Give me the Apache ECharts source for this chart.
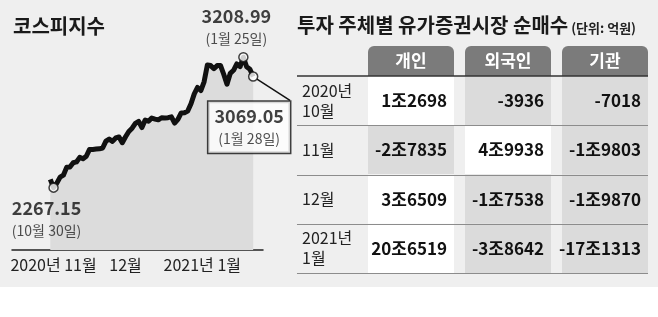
<!DOCTYPE html>
<html><head><meta charset="utf-8">
<script src="https://cdn.jsdelivr.net/npm/echarts@6/dist/echarts.min.js"></script>
<style>html,body{margin:0;padding:0;background:#fff}#c{width:658px;height:317px;background:linear-gradient(#efefef 0,#efefef 287px,#fff 287px)}</style>
</head><body><div id="c"></div><script>
// ---- data ----
const dates = ['2020-10-29','2020-10-30',
 '2020-11-02','2020-11-03','2020-11-04','2020-11-05','2020-11-06','2020-11-09','2020-11-10','2020-11-11','2020-11-12','2020-11-13',
 '2020-11-16','2020-11-17','2020-11-18','2020-11-19','2020-11-20','2020-11-23','2020-11-24','2020-11-25','2020-11-26','2020-11-27','2020-11-30',
 '2020-12-01','2020-12-02','2020-12-03','2020-12-04','2020-12-07','2020-12-08','2020-12-09','2020-12-10','2020-12-11',
 '2020-12-14','2020-12-15','2020-12-16','2020-12-17','2020-12-18','2020-12-21','2020-12-22','2020-12-23','2020-12-24','2020-12-28','2020-12-29','2020-12-30',
 '2021-01-04','2021-01-05','2021-01-06','2021-01-07','2021-01-08','2021-01-11','2021-01-12','2021-01-13','2021-01-14','2021-01-15',
 '2021-01-18','2021-01-19','2021-01-20','2021-01-21','2021-01-22','2021-01-25','2021-01-26','2021-01-27','2021-01-28'];
const kospi = [2326.67,2267.15,
 2300.16,2343.31,2357.32,2413.79,2416.50,2447.20,2452.83,2485.87,2475.62,2493.87,
 2543.03,2543.35,2545.64,2547.42,2553.50,2602.59,2617.76,2601.54,2625.91,2633.45,2591.34,
 2634.25,2672.85,2696.22,2731.45,2745.44,2700.93,2755.47,2746.46,2770.06,
 2762.20,2756.82,2771.79,2770.43,2772.18,2778.65,2733.68,2759.82,2806.86,2808.60,2820.51,2873.47,
 2944.45,2990.57,2968.21,3031.68,3152.18,3148.45,3125.95,3148.29,3149.93,3085.90,
 3013.93,3092.66,3114.55,3160.84,3140.63,3208.99,3140.31,3122.56,3069.05];
const tickDates = ['2020-10-30','2020-12-01','2021-01-04'];
const tickLabels = ['2020년 11월','12월','2021년 1월'];
const markDates = ['2020-10-30','2021-01-25','2021-01-28'];
const markDayLabels = ['(10월 30일)','(1월 25일)','(1월 28일)'];

const tableCols = ['개인','외국인','기관'];
const tableRows = ['2020년\n10월','11월','12월','2021년\n1월'];
const individual  = ['1조2698','-2조7835','3조6509','20조6519'];
const foreign     = ['-3936','4조9938','-1조7538','-3조8642'];
const institution = ['-7018','-1조9803','-1조9870','-17조1313'];

// ---- build ----
const FONT = "'Noto Sans CJK KR', 'Noto Sans', sans-serif";
const tableCells = [individual, foreign, institution];
const tickIdx = tickDates.map(d => dates.indexOf(d));
const lineData = kospi.map((v, i) => [i, v]);

const markLabelStyles = [
  {position:'bottom', distance:4, offset:[-7,0]},
  {position:'top', distance:1, offset:[-7,0]},
  {position:'bottom', distance:20, offset:[-4,0], backgroundColor:'#fff', borderColor:'#111', borderWidth:1.5, padding:[3,6,2,6]}
];
const markData = markDates.map((d, k) => {
  const i = dates.indexOf(d);
  return {
    value: [i, kospi[i]],
    label: Object.assign({
      show: true,
      formatter: '{b|' + kospi[i].toFixed(2) + '}\n{s|' + markDayLabels[k] + '}',
      rich: {
        b: {fontFamily: FONT, fontSize: 18, fontWeight: 'bold', color: '#111', lineHeight: 22, align: 'center'},
        s: {fontFamily: FONT, fontSize: 14, color: '#222', lineHeight: 24, align: 'center'}
      }
    }, markLabelStyles[k]),
    labelLine: k === 2 ? {show: true, lineStyle: {color: '#111', width: 1.5}} : {show: false}
  };
});

const tableData = [];
tableRows.forEach((r, ri) => tableCols.forEach((c, ci) => tableData.push([ci, ri])));

const chart = echarts.init(document.getElementById('c'), null, {renderer: 'canvas'});
chart.setOption({
  animation: false,
  textStyle: {fontFamily: FONT},
  title: [
    {text: '코스피지수', left: 13, top: 16, padding: 0,
     textStyle: {fontFamily: FONT, fontSize: 20, fontWeight: 'bold', color: '#1a1a1a'}},
    {text: '{a|투자 주체별 유가증권시장 순매수}{u| (단위: 억원)}', left: 297, top: 12, padding: 0,
     textStyle: {rich: {
       a: {fontFamily: FONT, fontSize: 20, fontWeight: 'bold', color: '#1a1a1a', lineHeight: 23, verticalAlign: 'bottom'},
       u: {fontFamily: FONT, fontSize: 13, color: '#222', lineHeight: 23, verticalAlign: 'bottom'}
     }}}
  ],
  grid: [
    {left: 12, right: 395, top: 50, bottom: 67},
    {left: 362.5, right: 4.5, top: 76, bottom: 44}
  ],
  xAxis: [
    {type: 'value', gridIndex: 0, min: -11.7, max: 65,
     axisLine: {show: true, onZero: false, lineStyle: {color: '#222', width: 1.5}},
     axisTick: {show: true, inside: true, length: 7, customValues: tickIdx, lineStyle: {color: '#555', width: 1}},
     axisLabel: {show: true, customValues: tickIdx, margin: 7, color: '#222', fontSize: 16, fontFamily: FONT,
       formatter: v => {
         const k = tickIdx.indexOf(Math.round(v));
         if (k < 0) return '';
         return k === 2 ? '{r|' + tickLabels[k] + '}' : tickLabels[k];
       },
       rich: {r: {fontSize: 16, fontFamily: FONT, color: '#222', padding: [0, 0, 0, 16]}}
     },
     splitLine: {show: false}},
    {type: 'category', gridIndex: 1, data: tableCols, position: 'top',
     axisLine: {show: false}, axisTick: {show: false}, splitLine: {show: false},
     axisLabel: {margin: 0, color: '#fff', fontWeight: 'bold', fontSize: 17, fontFamily: FONT,
       backgroundColor: '#7b7b7b', width: 86, height: 30, lineHeight: 30, align: 'center',
       borderRadius: [6, 6, 0, 0]}}
  ],
  yAxis: [
    {type: 'value', gridIndex: 0, min: 1817, max: 3261, show: false},
    {type: 'category', gridIndex: 1, data: tableRows, inverse: true,
     axisLine: {show: false}, axisTick: {show: false}, splitLine: {show: false},
     axisLabel: {align: 'left', margin: 60.5, color: '#222', fontSize: 16, lineHeight: 20, fontFamily: FONT}}
  ],
  series: [
    {type: 'line', xAxisIndex: 0, yAxisIndex: 0, data: lineData, symbol: 'none',
     lineStyle: {color: '#111', width: 5, join: 'round'},
     areaStyle: {color: '#dcdcdc', opacity: 1, origin: 'start'}, z: 2},
    {type: 'scatter', xAxisIndex: 0, yAxisIndex: 0, data: markData, symbol: 'circle', symbolSize: 9,
     itemStyle: {color: '#fff', borderColor: '#111', borderWidth: 1.5}, z: 4},
    {type: 'custom', xAxisIndex: 1, yAxisIndex: 1, data: tableData, z: 2,
     renderItem: function (params, api) {
       const c = api.value(0), r = api.value(1);
       const ctr = api.coord([c, r]);
       const band = api.size([1, 1]);
       const cw = band[0] * 0.887;
       const x0 = ctr[0] - cw / 2, y0 = ctr[1] - band[1] / 2;
       const txt = tableCells[c][r];
       const neg = txt.charAt(0) === '-';
       const children = [
         {type: 'rect', shape: {x: x0, y: y0, width: cw, height: band[1]}, style: {fill: neg ? '#dbdbdb' : '#ffffff'}},
         {type: 'text', z2: 5, style: {text: txt, x: x0 + cw - 7, y: ctr[1], align: 'right', verticalAlign: 'middle',
           font: 'bold 17px ' + FONT, fill: '#111'}}
       ];
       if (c === 0) {
         const left = x0 - 71;
         const right = api.coord([tableCols.length - 1, r])[0] + cw / 2;
         const yb = Math.round(y0 + band[1]) + 0.5;
         children.push({type: 'line', z2: 10, shape: {x1: left, y1: yb, x2: right, y2: yb}, style: {stroke: '#8c8c8c', lineWidth: 1}});
         if (r === 0) {
           const yt = Math.round(y0);
           children.push({type: 'line', z2: 10, shape: {x1: left, y1: yt, x2: right, y2: yt}, style: {stroke: '#333', lineWidth: 1.5}});
         }
       }
       return {type: 'group', children: children};
     }}
  ]
});
</script></body></html>
